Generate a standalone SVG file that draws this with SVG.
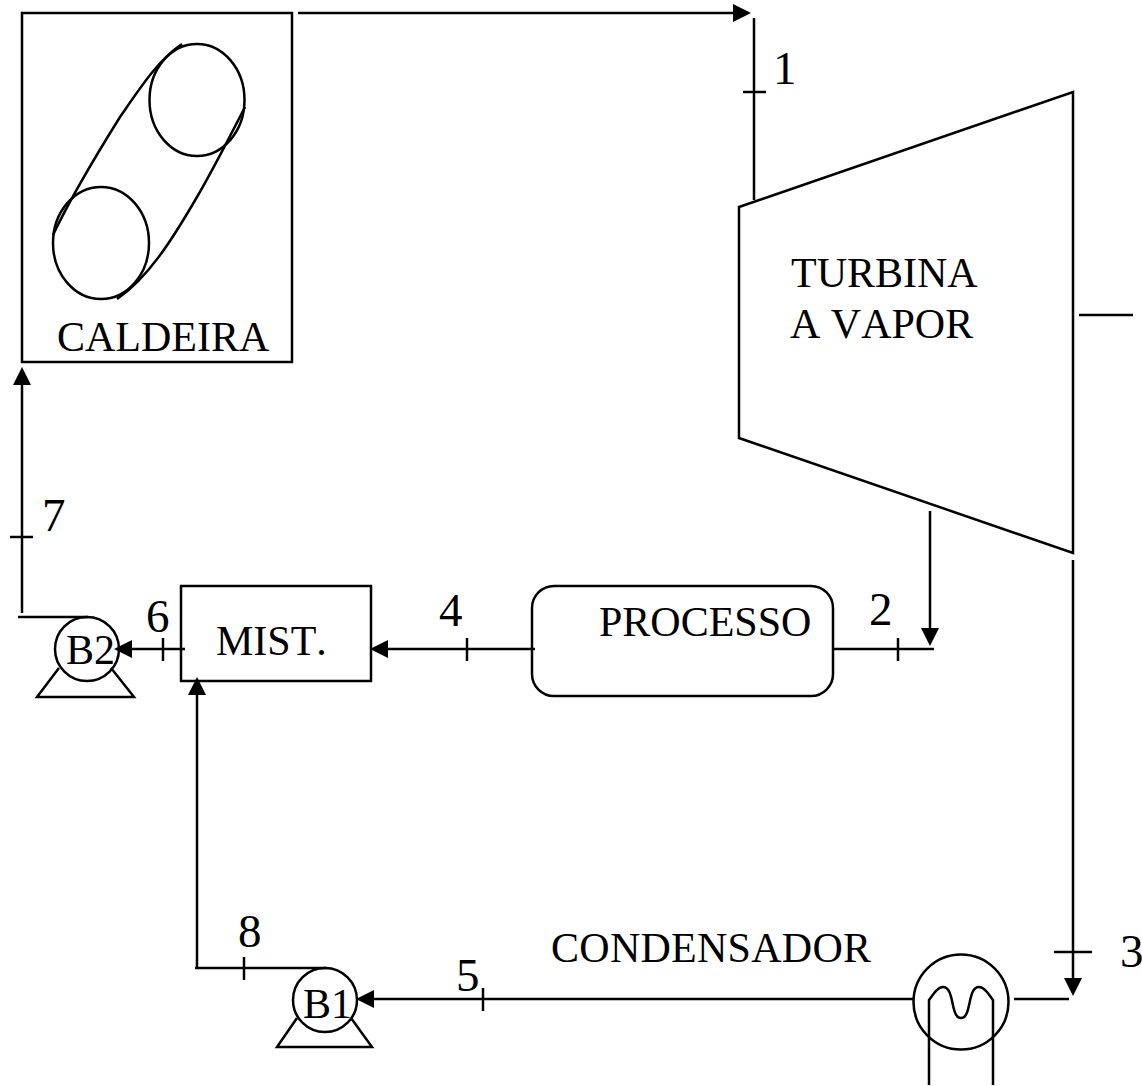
<svg xmlns="http://www.w3.org/2000/svg" width="1142" height="1086" viewBox="0 0 1142 1086">
<style>
.s{fill:none;stroke:#000;stroke-width:2.5}
text{font-family:"Liberation Serif","Times New Roman",serif;font-size:42px;fill:#000;font-kerning:none}
#labels text{font-size:47px}
.a{marker-end:url(#arrow)}
</style>
<defs>
<marker id="arrow" markerUnits="userSpaceOnUse" markerWidth="18" markerHeight="18" refX="8" refY="8" orient="auto" viewBox="0 0 16 16">
<path d="M0 0L16 8L0 16Z" fill="#000"/>
</marker>
</defs>
<rect width="1142" height="1086" fill="#fff"/>
<g id="caldeira">
<rect class="s" x="22" y="13" width="270" height="349"/>
<ellipse class="s" cx="197" cy="100" rx="47.5" ry="56"/>
<ellipse class="s" cx="101" cy="243" rx="48" ry="56"/>
<path class="s" d="M182 44C158 60 140 88 120 117C95 157 72 195 53 235"/>
<path class="s" d="M245 107C228 140 214 168 197 197C172 240 148 278 117 299"/>
<text x="57" y="351">CALDEIRA</text>
</g>
<g id="turbina">
<polygon class="s" points="739,207 1073,92 1073,553 739,438"/>
<text x="791" y="287">TURBINA</text>
<text x="790" y="338">A VAPOR</text>
</g>
<g id="processo">
<rect class="s" x="532" y="586" width="301" height="110" rx="22"/>
<text x="599" y="636">PROCESSO</text>
</g>
<g id="mist">
<rect class="s" x="181" y="586" width="190" height="95"/>
<text x="216" y="655">MIST.</text>
</g>
<g id="b2">
<circle class="s" cx="87" cy="649" r="32"/>
<path class="s" d="M59 668L37 697H134L111 668"/>
<text x="66" y="664">B2</text>
</g>
<g id="b1">
<circle class="s" cx="325" cy="1000" r="32"/>
<path class="s" d="M297 1018L277 1047H372L351 1018"/>
<text x="303" y="1018">B1</text>
</g>
<g id="condensador">
<circle class="s" cx="961" cy="1002" r="47.5"/>
<path class="s" d="M929 1085V1000C934 993 938 987 943 987C955 987 950 1018 961 1018C972 1018 967 987 979 987C984 987 988 993 993 1000V1085"/>
<text x="551" y="962" letter-spacing="0.27">CONDENSADOR</text>
</g>
<g id="connectors">
<path class="s a" d="M298 13H742"/>
<path class="s" d="M754 18V200M743 92H766"/>
<path class="s" d="M1079 315H1133"/>
<path class="s a" d="M930 511V637"/>
<path class="s" d="M833 649H934M898 638V661"/>
<path class="s a" d="M535 649H379"/>
<path class="s" d="M467 638V661"/>
<path class="s a" d="M185 649H123"/>
<path class="s" d="M163 638V661"/>
<path class="s" d="M18 617H88"/>
<path class="s a" d="M22 613V376"/>
<path class="s" d="M10 537H33"/>
<path class="s a" d="M197 968V686"/>
<path class="s" d="M195 968H327M244 957V980"/>
<path class="s a" d="M913 999H365"/>
<path class="s" d="M483 988V1011"/>
<path class="s" d="M1014 999H1069"/>
<path class="s a" d="M1073 560V987"/>
<path class="s" d="M1054 952H1092"/>
</g>
<g id="labels">
<text x="773" y="84">1</text>
<text x="869" y="625">2</text>
<text x="1120" y="967">3</text>
<text x="439" y="626">4</text>
<text x="456" y="991">5</text>
<text x="146" y="632">6</text>
<text x="42" y="531">7</text>
<text x="238" y="947">8</text>
</g>
</svg>
